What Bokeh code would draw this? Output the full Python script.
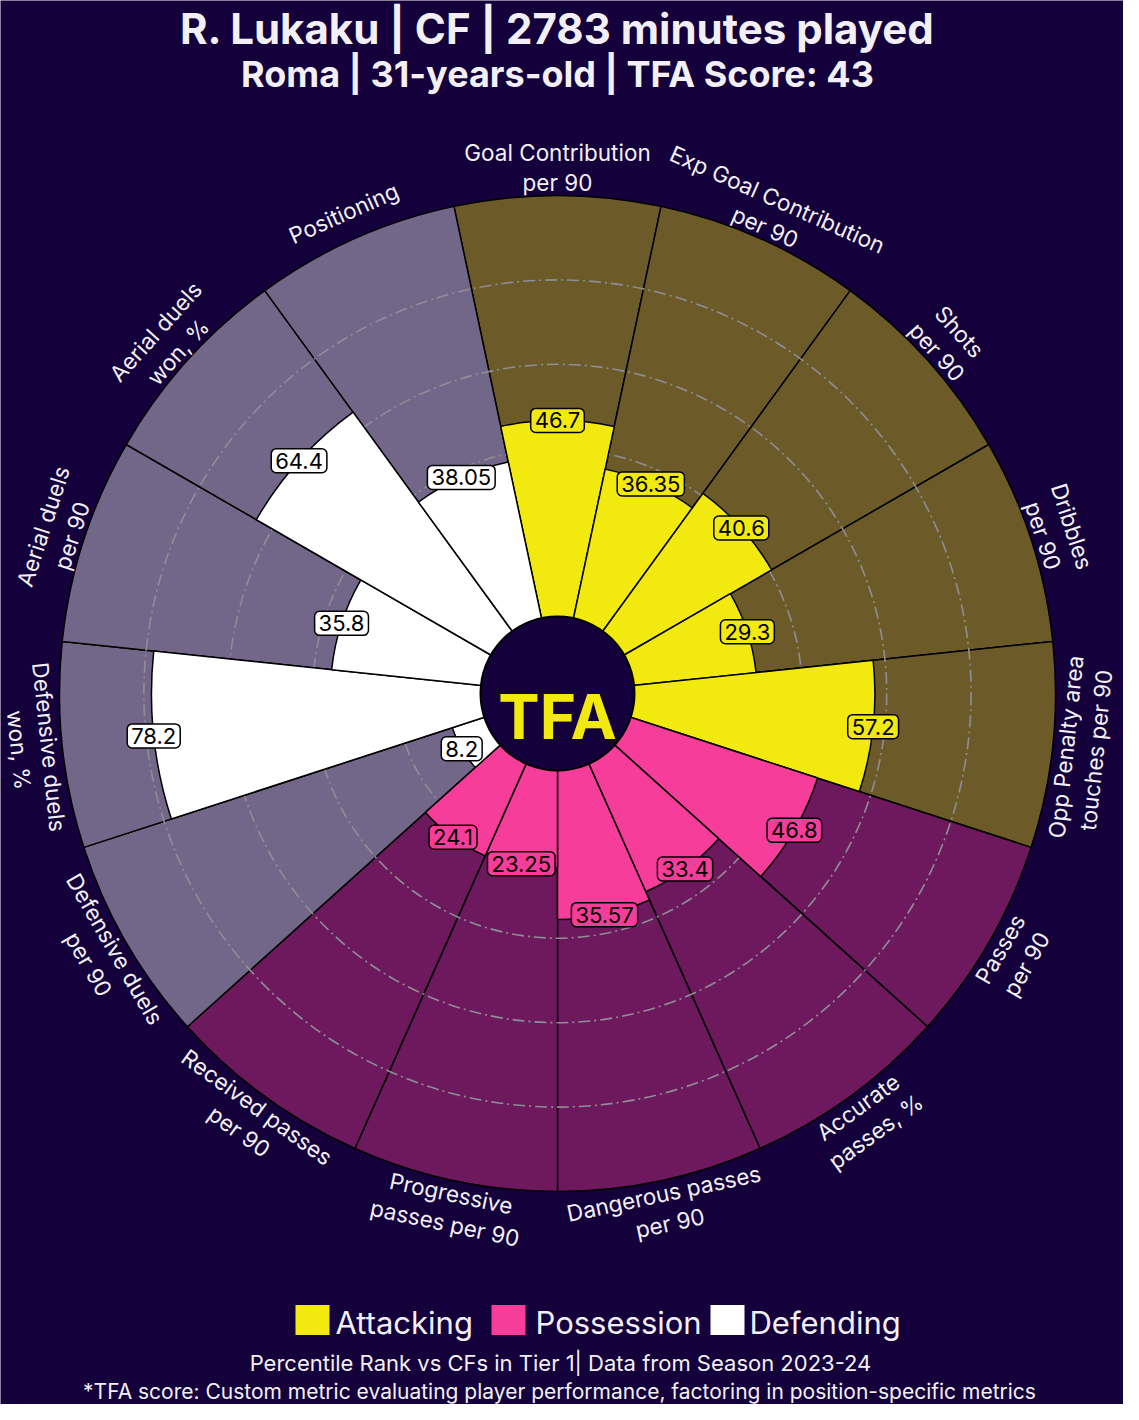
import math
from bokeh.plotting import figure
from bokeh.models import Range1d, ColumnDataSource
from bokeh.core.properties import value
from bokeh.embed import file_html
from bokeh.resources import INLINE

# ---------------- data ----------------
categories = [
    "Goal Contribution\nper 90",
    "Exp Goal Contribution\nper 90",
    "Shots\nper 90",
    "Dribbles\nper 90",
    "Opp Penalty area\ntouches per 90",
    "Passes\nper 90",
    "Accurate\npasses, %",
    "Dangerous passes\nper 90",
    "Progressive\npasses per 90",
    "Received passes\nper 90",
    "Defensive duels\nper 90",
    "Defensive duels\nwon, %",
    "Aerial duels\nper 90",
    "Aerial duels\nwon, %",
    "Positioning",
]
values = [46.7, 36.35, 40.6, 29.3, 57.2, 46.8, 33.4, 35.57, 23.25, 24.1,
          8.2, 78.2, 35.8, 64.4, 38.05]
value_labels = ["46.7", "36.35", "40.6", "29.3", "57.2", "46.8", "33.4", "35.57",
                "23.25", "24.1", "8.2", "78.2", "35.8", "64.4", "38.05"]
groups = ["Attacking"] * 5 + ["Possession"] * 5 + ["Defending"] * 5
group_names = ["Attacking", "Possession", "Defending"]
grid_values = [20, 40, 60, 80]

title = "R. Lukaku | CF | 2783 minutes played"
subtitle = "Roma | 31-years-old | TFA Score: 43"
footer1 = "Percentile Rank vs CFs in Tier 1| Data from Season 2023-24"
footer2 = "*TFA score: Custom metric evaluating player performance, factoring in position-specific metrics"

# ---------------- style ----------------
BG = "#14003a"
bar_colors = {"Attacking": "#f2e90f", "Possession": "#f73d9a", "Defending": "#ffffff"}
back_colors = {"Attacking": "#6c5b29", "Possession": "#6e195e", "Defending": "#736789"}
TEXT = "#f2f0f6"
FONT = "Inter"

R0 = 76.0          # radius of value 0
SCALE = 4.22       # px per percentile point
ROUT = R0 + 100 * SCALE
RLAB = 526.0

n = len(categories)
step = 360.0 / n
centers = [90 - step * i for i in range(n)]

src = ColumnDataSource(dict(
    start=[c - step / 2 for c in centers],
    end=[c + step / 2 for c in centers],
    rend=[R0 + v * SCALE for v in values],
    bar=[bar_colors[g] for g in groups],
    back=[back_colors[g] for g in groups],
))

# 1 data unit == 1 screen pixel; chart centre at page (565, 701)
p = figure(width=1123, height=1404, output_backend="svg", toolbar_location=None,
           x_range=Range1d(-557, 566), y_range=Range1d(-711, 693),
           min_border=0, background_fill_color=BG, border_fill_color=BG)
p.axis.visible = False
p.grid.visible = False
p.outline_line_color = None

# background wedges
p.annular_wedge(x=0, y=0, inner_radius=R0, outer_radius=ROUT, start_angle="start",
                end_angle="end", start_angle_units="deg", end_angle_units="deg",
                fill_color="back", line_color="black", line_width=1.5, source=src)

# grid circles
for g in grid_values:
    p.circle(x=[0], y=[0], radius=R0 + g * SCALE, fill_color=None,
             line_color="#8e8e96", line_width=1.6, line_dash="12 4 2 4")

# bars
p.annular_wedge(x=0, y=0, inner_radius=R0, outer_radius="rend", start_angle="start",
                end_angle="end", start_angle_units="deg", end_angle_units="deg",
                fill_color="bar", line_color="black", line_width=1.5, source=src)

# centre logo
p.circle(x=[0], y=[0], radius=R0 + 1, fill_color=BG, line_color="black", line_width=2)
p.text(x=[0], y=[-23], text=["TFA"], text_color="#f2e90f", text_font=value(FONT),
       text_font_style="bold", text_font_size="62px", text_align="center",
       text_baseline="alphabetic")

# value labels
lx, ly = [], []
for c, v in zip(centers, values):
    r = R0 + v * SCALE
    lx.append(r * math.cos(math.radians(c)))
    ly.append(r * math.sin(math.radians(c)))
vsrc = ColumnDataSource(dict(x=lx, y=ly, t=value_labels,
                             bg=[bar_colors[g] for g in groups]))
p.text(x="x", y="y", text="t", source=vsrc, text_color="black",
       text_font=value(FONT), text_font_size="22px", text_align="center",
       text_baseline="middle", background_fill_color="bg",
       border_line_color="black", border_line_width=1.5, border_radius=5, padding=4)

# category labels
cx, cy, rot = [], [], []
for c in centers:
    a = math.radians(c)
    cx.append(RLAB * math.cos(a))
    cy.append(RLAB * math.sin(a))
    rot.append(c - 90 if math.sin(a) >= -1e-9 else c + 90)
csrc = ColumnDataSource(dict(x=cx, y=cy, t=categories, a=rot))
p.text(x="x", y="y", text="t", angle="a", angle_units="deg", source=csrc,
       text_color=TEXT, text_font=value(FONT), text_font_size="22.5px",
       text_align="center", text_baseline="middle", text_line_height=1.12)

# titles
p.text(x=[0], y=[665], text=[title], text_color=TEXT, text_font=value(FONT),
       text_font_style="bold", text_font_size="42px", text_align="center",
       text_baseline="middle")
p.text(x=[0], y=[620], text=[subtitle], text_color=TEXT, text_font=value(FONT),
       text_font_style="bold", text_font_size="36px", text_align="center",
       text_baseline="middle")

# legend
leg_sq_x = [-245, -49, 170]
leg_tx_x = [-222, -22, 192]
p.rect(x=leg_sq_x, y=[-626.5] * 3, width=34, height=30,
       fill_color=[bar_colors[g] for g in group_names], line_color=None)
p.text(x=leg_tx_x, y=[-629] * 3, text=group_names, text_color=TEXT,
       text_font=value(FONT), text_font_size="31px", text_align="left",
       text_baseline="middle")

# footers
p.text(x=[3], y=[-669], text=[footer1], text_color=TEXT, text_font=value(FONT),
       text_font_size="22px", text_align="center", text_baseline="middle")
p.text(x=[2], y=[-698], text=[footer2], text_color=TEXT, text_font=value(FONT),
       text_font_size="21px", text_align="center", text_baseline="middle")

open("out.html", "w").write(file_html(p, INLINE))
